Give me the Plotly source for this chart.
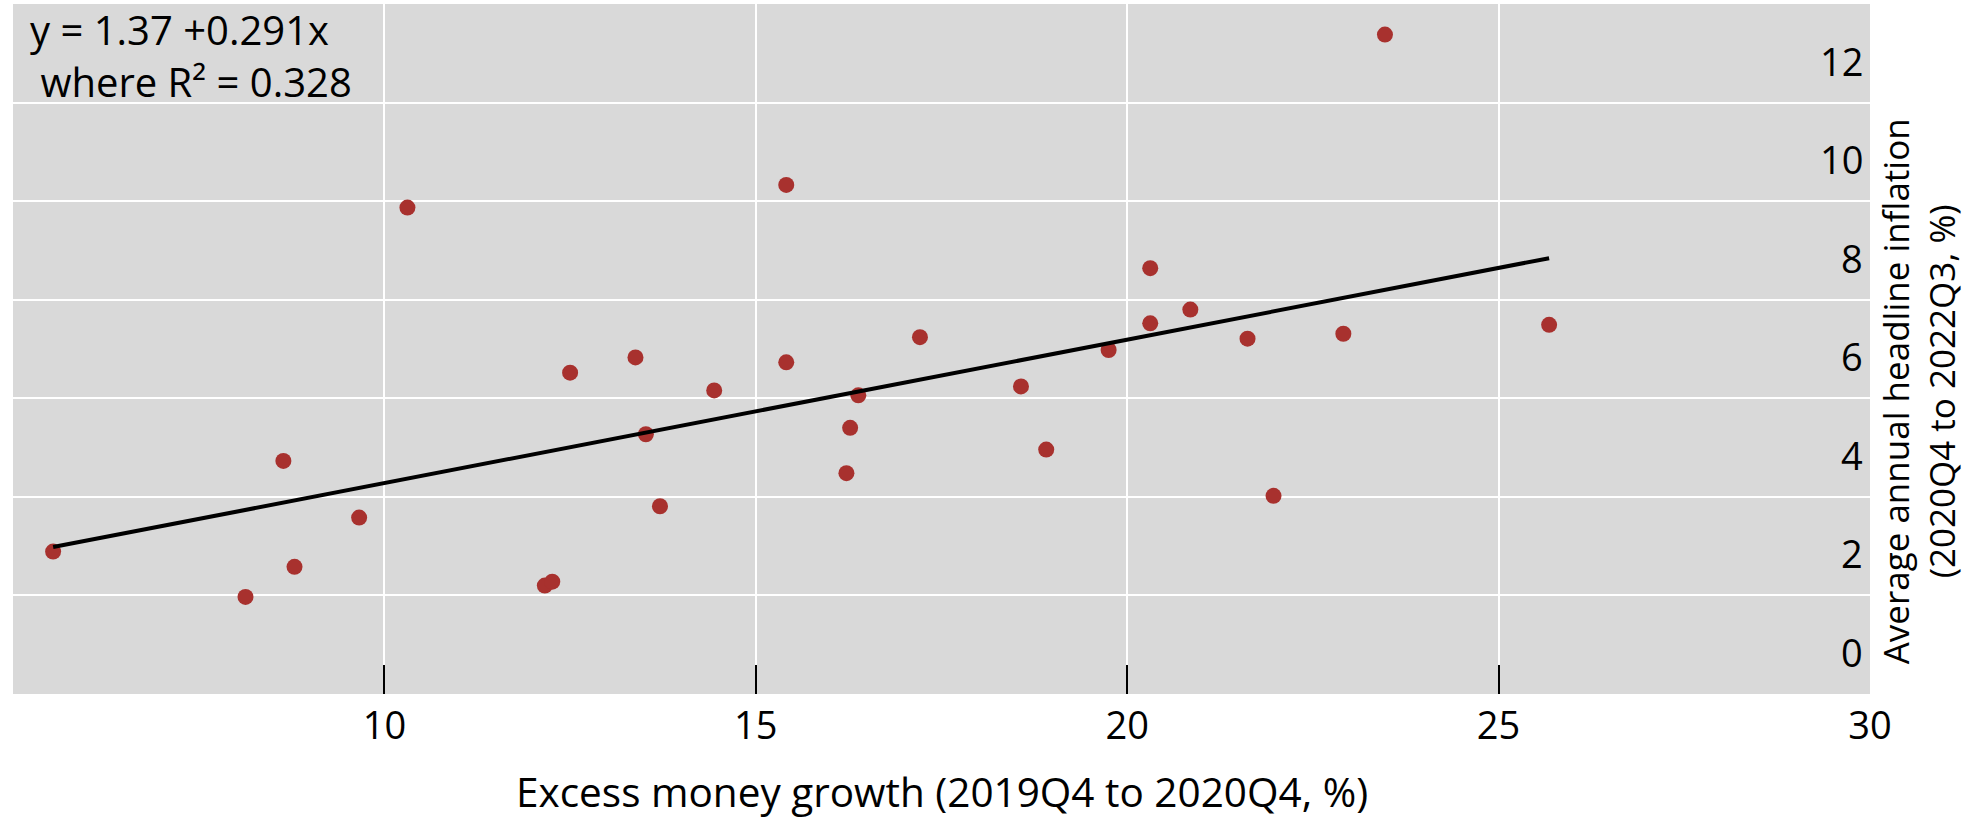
import numpy as np
import plotly.graph_objects as go

# Excess money growth (2019Q4 to 2020Q4, %)
x_growth = [5.54, 8.13, 8.64, 8.79, 9.66, 10.31, 12.16, 12.26, 12.50, 13.38,
            13.71, 13.52, 14.44, 15.41, 15.41, 16.22, 16.27, 16.38, 17.21, 18.57,
            18.91, 19.75, 20.31, 20.31, 20.85, 21.62, 21.97, 22.91, 23.47, 25.68]
# Average annual headline inflation (2020Q4 to 2022Q3, %)
y_inflation = [2.89, 1.97, 4.73, 2.58, 3.58, 9.87, 2.20, 2.28, 6.52, 6.83,
               3.81, 5.27, 6.16, 10.33, 6.73, 4.48, 5.40, 6.06, 7.24, 6.24,
               4.96, 6.98, 8.64, 7.52, 7.80, 7.21, 4.02, 7.31, 13.38, 7.49]

fit_intercept = 1.37
fit_slope = 0.291
fit_r2 = 0.328

x_tickvals = [10, 15, 20, 25, 30]
x_ticktext = ["10", "15", "20", "25", "30"]
x_unlabelled_ticks = [5]
y_tickvals = [0, 2, 4, 6, 8, 10, 12]
y_ticktext = ["0", "2", "4", "6", "8", "10", "12"]

FONT = "Open Sans"

xs = np.array([min(x_growth), max(x_growth)])
ys = fit_intercept + fit_slope * xs

fig = go.Figure()
fig.add_trace(go.Scatter(x=x_growth, y=y_inflation, mode="markers",
                         marker=dict(size=16, color="#A8312E"),
                         showlegend=False))
fig.add_trace(go.Scatter(x=xs, y=ys, mode="lines",
                         line=dict(color="black", width=4),
                         showlegend=False))

fig.update_layout(
    width=1980, height=819,
    margin=dict(l=13, r=110, t=4, b=125),
    paper_bgcolor="white",
    plot_bgcolor="#D9D9D9",
    font=dict(family=FONT, color="black", size=38),
    xaxis=dict(range=[5, 30], tickvals=x_tickvals, ticktext=x_ticktext,
               ticks="inside", ticklen=29, tickwidth=2, tickcolor="black",
               minor=dict(tickvals=x_unlabelled_ticks, ticks="inside", ticklen=29,
                          tickwidth=2, tickcolor="black", showgrid=False),
               showgrid=True, gridcolor="white", gridwidth=2,
               zeroline=False, showline=False, ticklabelstandoff=6,
               tickfont=dict(size=38, family=FONT, color="black")),
    yaxis=dict(range=[0, 14], tickvals=y_tickvals, side="right",
               showticklabels=False, ticks="",
               showgrid=True, gridcolor="white", gridwidth=2,
               zeroline=False, showline=False),
)

# y tick labels, drawn right-aligned inside the plot just above each gridline
for v, t in zip(y_tickvals, y_ticktext):
    fig.add_annotation(text=t, xref="paper", yref="y", x=1, y=v,
                       xanchor="right", yanchor="middle", xshift=-5, yshift=42,
                       showarrow=False,
                       font=dict(size=38, family=FONT, color="black"))

fig.add_annotation(text="y = %.2f +%.3fx<br>\u00a0where R\u00b2 = %.3f"
                        % (fit_intercept, fit_slope, fit_r2),
                   xref="paper", yref="paper", x=0.008, y=1.0058,
                   xanchor="left", yanchor="top", align="left",
                   showarrow=False,
                   font=dict(size=40, family=FONT))
fig.add_annotation(text="Excess money growth (2019Q4 to 2020Q4, %)",
                   xref="paper", yref="paper", x=0.5, y=-0.142,
                   xanchor="center", yanchor="middle", showarrow=False,
                   font=dict(size=40.5, family=FONT))
fig.add_annotation(text="Average annual headline inflation<br>(2020Q4 to 2022Q3, %)",
                   xref="paper", yref="paper", x=1.026, y=0.439,
                   xanchor="center", yanchor="middle", showarrow=False,
                   textangle=-90,
                   font=dict(size=35, family=FONT))

fig.write_html("out.html", config={"displayModeBar": False},
               post_script="document.body.style.margin='0px';document.body.style.overflow='hidden';")
